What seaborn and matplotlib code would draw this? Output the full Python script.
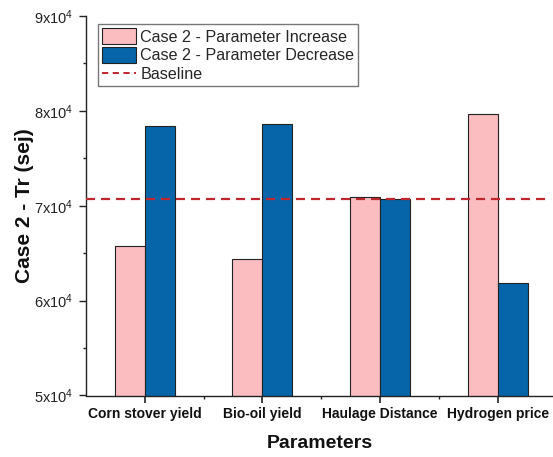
import matplotlib
matplotlib.use("Agg")
import matplotlib.pyplot as plt
from matplotlib.ticker import FixedLocator, MultipleLocator, FuncFormatter
from matplotlib.patches import Patch
from matplotlib.lines import Line2D
import seaborn as sns
import pandas as pd

# Sensitivity results (Tr, sej)
parameters = ["Corn stover yield", "Bio-oil yield", "Haulage Distance", "Hydrogen price"]
increase_values = [65740, 64370, 70930, 79660]
decrease_values = [78400, 78650, 70720, 61840]
baseline_value = 70720
series_names = ["Case 2 - Parameter Increase", "Case 2 - Parameter Decrease"]
y_tick_values = [50000, 60000, 70000, 80000, 90000]

sns.set_theme(style="white")
plt.rcParams["font.family"] = ["Liberation Sans", "DejaVu Sans"]
plt.rcParams["mathtext.fontset"] = "custom"
plt.rcParams["mathtext.rm"] = "Liberation Sans"
plt.rcParams["mathtext.it"] = "Liberation Sans:italic"
plt.rcParams["mathtext.bf"] = "Liberation Sans:bold"
plt.rcParams["lines.scale_dashes"] = False

pink = "#FBBDC0"
blue = "#0565A8"
red = "#C0262D"

df = pd.DataFrame({
    "Parameter": parameters * 2,
    "Series": [series_names[0]] * len(parameters) + [series_names[1]] * len(parameters),
    "Value": increase_values + decrease_values,
})

fig = plt.figure(figsize=(5.53, 4.57), dpi=100)
ax = fig.add_axes([86 / 553, 1 - 395.5 / 457, 467 / 553, (395.5 - 16) / 457])

sns.barplot(data=df, x="Parameter", y="Value", hue="Series", order=parameters,
            hue_order=series_names, palette=[pink, blue], width=0.51, saturation=1,
            edgecolor="#222222", linewidth=0.8, ax=ax, legend=False, zorder=2)

ax.axhline(baseline_value, xmax=0.985, color=red, lw=1.6, dashes=(6.5, 4.3), zorder=3)

ax.set_ylim(50000, 90000)
ax.set_xlim(-0.5, 3.47)

ax.yaxis.set_major_locator(FixedLocator(y_tick_values))
ax.yaxis.set_minor_locator(MultipleLocator(5000))
ax.yaxis.set_major_formatter(FuncFormatter(lambda v, p: r"%dx10$^{4}$" % round(v / 10000)))
ax.xaxis.set_minor_locator(FixedLocator([0.5, 1.5, 2.5]))

for s in ["top", "right"]:
    ax.spines[s].set_visible(False)
for s in ["left", "bottom"]:
    ax.spines[s].set_color("#222222")
    ax.spines[s].set_linewidth(1.0)

ax.tick_params(axis="y", which="major", direction="out", length=5, width=1.0,
               color="#222222", labelsize=10.5, labelcolor="#222222", pad=4, left=True)
ax.tick_params(axis="y", which="minor", direction="out", length=2.5, width=1.0,
               color="#222222", left=True)
ax.tick_params(axis="x", which="major", direction="out", length=5, width=1.2,
               color="#222222", labelsize=10, labelcolor="#111111", pad=3, bottom=True)
ax.tick_params(axis="x", which="minor", direction="out", length=2.5, width=1.0,
               color="#222222", bottom=True)
for lbl in ax.get_xticklabels():
    lbl.set_fontweight("bold")

ax.set_xlabel("Parameters", fontsize=14, fontweight="bold", labelpad=10, color="#111111")
ax.set_ylabel("Case 2 - Tr (sej)", fontsize=15, fontweight="bold", labelpad=0, color="#111111")

handles = [
    Patch(facecolor=pink, edgecolor="#222222", linewidth=0.8),
    Patch(facecolor=blue, edgecolor="#222222", linewidth=0.8),
    Line2D([0], [0], color=red, lw=1.4, dashes=(4.5, 3.2)),
]
leg = ax.legend(handles, series_names + ["Baseline"], loc="upper left",
                bbox_to_anchor=(0.025, 0.978), fontsize=11.6, frameon=True,
                fancybox=False, edgecolor="#555555", handlelength=2.1,
                handleheight=1.1, labelspacing=0.16, borderpad=0.25,
                handletextpad=0.3, borderaxespad=0)
leg.get_frame().set_linewidth(1.0)

fig.savefig("out.png", dpi=100)
